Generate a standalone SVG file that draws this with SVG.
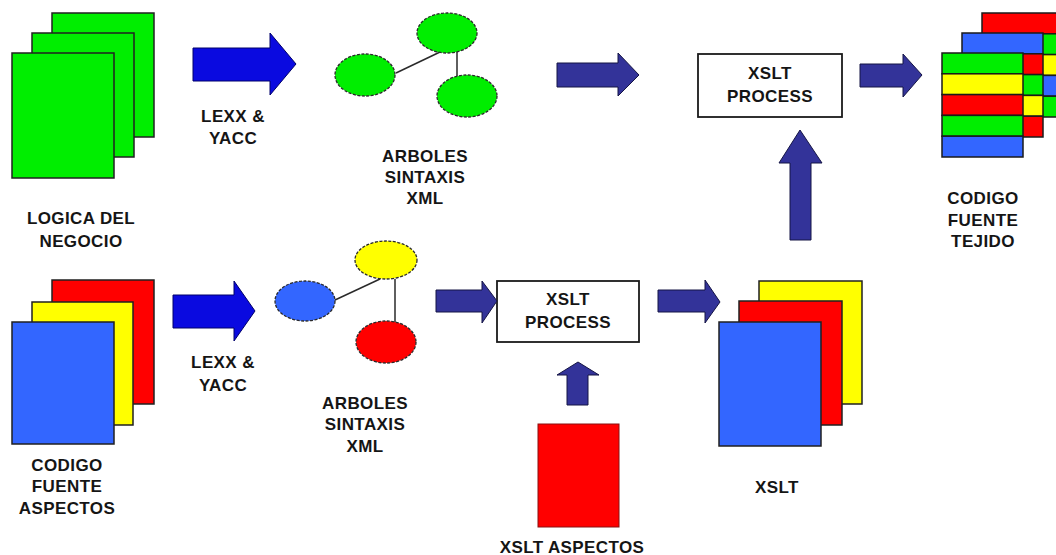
<svg xmlns="http://www.w3.org/2000/svg" width="1056" height="555" viewBox="0 0 1056 555">
  <style>
    .lbl { font-family: "Liberation Sans", Arial, sans-serif; font-weight: bold; font-size: 17px; fill: #151515; text-anchor: middle; letter-spacing: 0.4px; }
    .page { stroke: #202020; stroke-width: 1.5; }
    .g { fill: #00ee00; }
    .r { fill: #ff0000; }
    .y { fill: #ffff00; }
    .b { fill: #3366ff; }
    .node { stroke: #2a2a2a; stroke-width: 1.3; stroke-dasharray: 3 1.5; }
    .edge { stroke: #2a2a2a; stroke-width: 1.5; }
    .arrow-blue { fill: #0a0ae0; stroke: #00006a; stroke-width: 1; }
    .arrow-navy { fill: #333399; stroke: #151545; stroke-width: 1; }
    .box { fill: #ffffff; stroke: #1a1a1a; stroke-width: 1.8; }
    .stripe { stroke: #1a1a1a; stroke-width: 1.5; }
  </style>
  <rect width="1056" height="555" fill="#ffffff"/>

  <!-- business logic source pages -->
  <g id="logica-negocio">
    <rect class="page g" x="52" y="13" width="102" height="124"/>
    <rect class="page g" x="32" y="33" width="102" height="124"/>
    <rect class="page g" x="12" y="53" width="102" height="125"/>
    <text class="lbl" x="81" y="224">LOGICA DEL</text>
    <text class="lbl" x="81" y="247">NEGOCIO</text>
  </g>

  <!-- aspect source pages -->
  <g id="codigo-aspectos">
    <rect class="page r" x="52" y="280" width="102" height="124"/>
    <rect class="page y" x="32" y="302" width="101" height="123"/>
    <rect class="page b" x="12" y="322" width="102" height="122"/>
    <text class="lbl" x="67" y="471">CODIGO</text>
    <text class="lbl" x="67" y="492">FUENTE</text>
    <text class="lbl" x="67" y="514">ASPECTOS</text>
  </g>

  <!-- syntax tree of the business logic -->
  <g id="arbol-negocio">
    <line class="edge" x1="396" y1="73" x2="440" y2="52"/>
    <line class="edge" x1="457" y1="52" x2="457" y2="76"/>
    <ellipse class="node g" cx="365" cy="75" rx="30" ry="21"/>
    <ellipse class="node g" cx="447" cy="33" rx="30" ry="20"/>
    <ellipse class="node g" cx="467" cy="96" rx="30" ry="21"/>
    <text class="lbl" x="425" y="162">ARBOLES</text>
    <text class="lbl" x="425" y="183">SINTAXIS</text>
    <text class="lbl" x="425" y="204">XML</text>
  </g>

  <!-- syntax tree of the aspects -->
  <g id="arbol-aspectos">
    <line class="edge" x1="335" y1="300" x2="380" y2="279"/>
    <line class="edge" x1="395" y1="279" x2="395" y2="322"/>
    <ellipse class="node b" cx="305" cy="301" rx="30" ry="20"/>
    <ellipse class="node y" cx="386" cy="260" rx="31" ry="19"/>
    <ellipse class="node r" cx="386" cy="342" rx="30" ry="21"/>
    <text class="lbl" x="365" y="409">ARBOLES</text>
    <text class="lbl" x="365" y="430">SINTAXIS</text>
    <text class="lbl" x="365" y="452">XML</text>
  </g>

  <!-- upper XSLT processor -->
  <g id="xslt-process-1">
    <rect class="box" x="698" y="54" width="144" height="63"/>
    <text class="lbl" x="770" y="79">XSLT</text>
    <text class="lbl" x="770" y="102">PROCESS</text>
  </g>

  <!-- lower XSLT processor -->
  <g id="xslt-process-2">
    <rect class="box" x="497" y="281" width="142" height="61"/>
    <text class="lbl" x="568" y="305">XSLT</text>
    <text class="lbl" x="568" y="328">PROCESS</text>
  </g>

  <!-- aspect stylesheet -->
  <g id="xslt-aspectos">
    <rect x="538" y="424" width="81" height="103" fill="#ff0000" stroke="#8a1010" stroke-width="1"/>
    <text class="lbl" x="572" y="553" letter-spacing="1.2">XSLT ASPECTOS</text>
  </g>

  <!-- generated stylesheets -->
  <g id="xslt">
    <rect class="page y" x="759" y="281" width="103" height="123"/>
    <rect class="page r" x="739" y="301" width="103" height="124"/>
    <rect class="page b" x="719" y="322" width="102" height="124"/>
    <text class="lbl" x="777" y="493">XSLT</text>
  </g>

  <!-- woven source code: three striped pages -->
  <g id="codigo-tejido">
    <g transform="translate(982,13)">
      <rect class="stripe r" x="0" y="0" width="82" height="20.8"/>
      <rect class="stripe g" x="0" y="20.8" width="82" height="20.8"/>
      <rect class="stripe y" x="0" y="41.6" width="82" height="20.8"/>
      <rect class="stripe b" x="0" y="62.4" width="82" height="20.8"/>
      <rect class="stripe g" x="0" y="83.2" width="82" height="20.8"/>
    </g>
    <g transform="translate(962,33)">
      <rect class="stripe b" x="0" y="0" width="81" height="20.8"/>
      <rect class="stripe r" x="0" y="20.8" width="81" height="20.8"/>
      <rect class="stripe g" x="0" y="41.6" width="81" height="20.8"/>
      <rect class="stripe y" x="0" y="62.4" width="81" height="20.8"/>
      <rect class="stripe r" x="0" y="83.2" width="81" height="20.8"/>
    </g>
    <g transform="translate(942,53)">
      <rect class="stripe g" x="0" y="0" width="81" height="20.8"/>
      <rect class="stripe y" x="0" y="20.8" width="81" height="20.8"/>
      <rect class="stripe r" x="0" y="41.6" width="81" height="20.8"/>
      <rect class="stripe g" x="0" y="62.4" width="81" height="20.8"/>
      <rect class="stripe b" x="0" y="83.2" width="81" height="20.8"/>
    </g>
    <text class="lbl" x="983" y="204">CODIGO</text>
    <text class="lbl" x="983" y="226">FUENTE</text>
    <text class="lbl" x="983" y="247">TEJIDO</text>
  </g>

  <!-- block arrows and their labels -->
  <g id="connectors">
    <polygon class="arrow-blue" points="193,48 270,48 270,33 296,64 270,95 270,81 193,81"/>
    <text class="lbl" x="233" y="122">LEXX &amp;</text>
    <text class="lbl" x="233" y="144">YACC</text>

    <polygon class="arrow-blue" points="173,295 234,295 234,281 255,311 234,341 234,328 173,328"/>
    <text class="lbl" x="223" y="368">LEXX &amp;</text>
    <text class="lbl" x="223" y="391">YACC</text>

    <polygon class="arrow-navy" points="557,63 618,63 618,53 639,75 618,96 618,87 557,87"/>
    <polygon class="arrow-navy" points="860,64 903,64 903,54 922,75 903,97 903,87 860,87"/>
    <polygon class="arrow-navy" points="436,290 482,290 482,281 497,301 482,323 482,312 436,312"/>
    <polygon class="arrow-navy" points="658,290 705,290 705,280 720,302 705,323 705,312 658,312"/>
    <polygon class="arrow-navy" points="790,240 790,163 779,163 800,130 822,163 811,163 811,240"/>
    <polygon class="arrow-navy" points="567,405 567,375 557,375 578,362 599,375 588,375 588,405"/>
  </g>
</svg>
